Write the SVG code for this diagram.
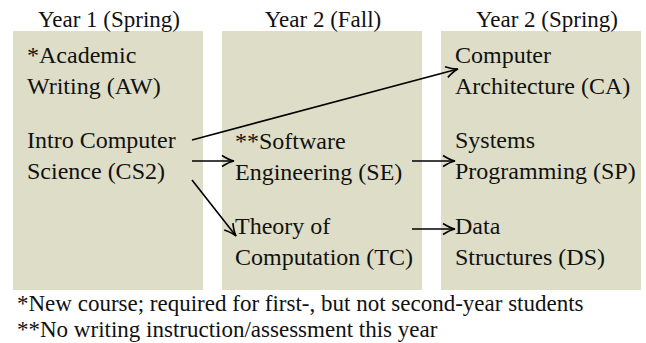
<svg xmlns="http://www.w3.org/2000/svg" width="646" height="343" viewBox="0 0 646 343">
<defs>
<style>
.col{fill:#dedec8;}
.lbl{font-size:24px;fill:#111;}
.hd{font-size:23px;fill:#111;text-anchor:middle;}
.note{font-size:23px;fill:#111;}
.conn{stroke:#000;stroke-width:1.6;fill:none;marker-end:url(#arr);}
</style>
<marker id="arr" viewBox="-13 -7 15 14" refX="0" refY="0" markerWidth="15" markerHeight="14" markerUnits="userSpaceOnUse" orient="auto">
<path d="M-12,-5.5 Q-5,-1 0,0 Q-5,1 -12,5.5" fill="none" stroke="#000" stroke-width="1.6"/>
</marker>
</defs>
<rect fill="#fff" x="0" y="0" width="646" height="343"/>
<g id="col1"><rect class="col" x="13" y="31" width="190" height="259"/><text class="hd" style="font-family:'Liberation Serif',serif" x="109" y="27">Year 1 (Spring)</text></g>
<g id="col2"><rect class="col" x="222" y="31" width="200" height="259"/><text class="hd" style="font-family:'Liberation Serif',serif" x="323" y="27">Year 2 (Fall)</text></g>
<g id="col3"><rect class="col" x="441" y="31" width="200" height="259"/><text class="hd" style="font-family:'Liberation Serif',serif" x="547" y="27">Year 2 (Spring)</text></g>
<g id="AW"><text class="lbl" style="font-family:'Liberation Serif',serif" x="27" y="63">*Academic</text><text class="lbl" style="font-family:'Liberation Serif',serif" x="27" y="94">Writing (AW)</text></g>
<g id="CS2"><text class="lbl" style="font-family:'Liberation Serif',serif" x="27" y="148">Intro Computer</text><text class="lbl" style="font-family:'Liberation Serif',serif" x="27" y="179">Science (CS2)</text></g>
<g id="SE"><text class="lbl" style="font-family:'Liberation Serif',serif" x="235" y="149">**Software</text><text class="lbl" style="font-family:'Liberation Serif',serif" x="235" y="180">Engineering (SE)</text></g>
<g id="TC"><text class="lbl" style="font-family:'Liberation Serif',serif" x="235" y="234">Theory of</text><text class="lbl" style="font-family:'Liberation Serif',serif" x="235" y="265">Computation (TC)</text></g>
<g id="CA"><text class="lbl" style="font-family:'Liberation Serif',serif" x="455" y="63">Computer</text><text class="lbl" style="font-family:'Liberation Serif',serif" x="455" y="94">Architecture (CA)</text></g>
<g id="SP"><text class="lbl" style="font-family:'Liberation Serif',serif" x="455" y="148">Systems</text><text class="lbl" style="font-family:'Liberation Serif',serif" x="455" y="179">Programming (SP)</text></g>
<g id="DS"><text class="lbl" style="font-family:'Liberation Serif',serif" x="455" y="234">Data</text><text class="lbl" style="font-family:'Liberation Serif',serif" x="455" y="265">Structures (DS)</text></g>
<g id="connectors">
<line class="conn" x1="192" y1="140" x2="458" y2="69"/>
<line class="conn" x1="192" y1="161" x2="234" y2="161"/>
<line class="conn" x1="192" y1="180" x2="236" y2="236"/>
<line class="conn" x1="412" y1="161" x2="455" y2="161"/>
<line class="conn" x1="412" y1="229" x2="455" y2="229"/>
</g>
<g id="notes">
<text class="note" style="font-family:'Liberation Serif',serif" x="17" y="311">*New course; required for first-, but not second-year students</text>
<text class="note" style="font-family:'Liberation Serif',serif" x="17" y="337">**No writing instruction/assessment this year</text>
</g>
</svg>
